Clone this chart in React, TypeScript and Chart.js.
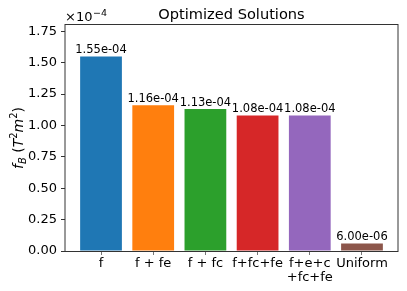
import React, { useEffect, useRef } from "react";
import { Chart, registerables } from "chart.js";
Chart.register(...registerables);

const categories = ["f", "f + fe", "f + fc", "f+fc+fe", "f+e+c\n+fc+fe", "Uniform"];
const values = [1.55e-4, 1.16e-4, 1.13e-4, 1.08e-4, 1.08e-4, 6.0e-6];
const colors = ["#1f77b4", "#ff7f0e", "#2ca02c", "#d62728", "#9467bd", "#8c564b"];
const yTickLabels = [0, 0.25, 0.5, 0.75, 1.0, 1.25, 1.5, 1.75];
const yUnit = 1e-4;
const yMaxScaled = 1.8;
const titleText = "Optimized Solutions";

const FONT = "'DejaVu Sans', sans-serif";
const SPINE = "#333";
const TICKC = "#777";

function fmtExp(v: number): string {
  const [m, e] = v.toExponential(2).split("e");
  const n = parseInt(e, 10);
  return m + "e" + (n < 0 ? "-" : "+") + String(Math.abs(n)).padStart(2, "0");
}

const decorPlugin = {
  id: "decor",
  afterDraw(chart: any) {
    const ctx = chart.ctx as CanvasRenderingContext2D;
    const a = chart.chartArea;
    ctx.save();
    // frame (horizontal spines crisp, vertical spines antialiased like the reference)
    ctx.strokeStyle = SPINE;
    ctx.lineWidth = 1;
    ctx.beginPath();
    ctx.moveTo(a.left, a.top - 0.5);
    ctx.lineTo(a.right, a.top - 0.5);
    ctx.moveTo(a.left, a.bottom + 0.5);
    ctx.lineTo(a.right, a.bottom + 0.5);
    ctx.moveTo(a.left, a.top - 1);
    ctx.lineTo(a.left, a.bottom + 1);
    ctx.moveTo(a.right, a.top - 1);
    ctx.lineTo(a.right, a.bottom + 1);
    ctx.stroke();

    // bar value labels
    const meta = chart.getDatasetMeta(0);
    ctx.fillStyle = "#000";
    ctx.font = `11.5px ${FONT}`;
    ctx.textAlign = "center";
    ctx.textBaseline = "alphabetic";
    meta.data.forEach((bar: any, i: number) => {
      ctx.fillText(fmtExp(values[i]), bar.x, bar.y - 3);
    });

    // title
    ctx.font = `14.6px ${FONT}`;
    ctx.fillText(titleText, (a.left + a.right) / 2, 19);

    // offset text x10^-4
    ctx.textAlign = "left";
    ctx.font = `13px ${FONT}`;
    const base = "×10";
    ctx.fillText(base, a.left, 21);
    const w = ctx.measureText(base).width;
    ctx.font = `9.5px ${FONT}`;
    ctx.fillText("−4", a.left + w + 0.5, 15.5);

    // y-axis label
    ctx.translate(18, (a.top + a.bottom) / 2);
    ctx.rotate(-Math.PI / 2);
    const parts = [
      { t: "f", f: `italic 14px ${FONT}`, dy: 0 },
      { t: "B", f: `italic 10px ${FONT}`, dy: 3 },
      { t: " (", f: `14px ${FONT}`, dy: 0 },
      { t: "T", f: `italic 14px ${FONT}`, dy: 0 },
      { t: "2", f: `10px ${FONT}`, dy: -6 },
      { t: "m", f: `italic 14px ${FONT}`, dy: 0 },
      { t: "2", f: `10px ${FONT}`, dy: -6 },
      { t: ")", f: `14px ${FONT}`, dy: 0 },
    ];
    let total = 0;
    const widths = parts.map((p) => {
      ctx.font = p.f;
      const ww = ctx.measureText(p.t).width;
      total += ww;
      return ww;
    });
    let x = -total / 2;
    parts.forEach((p, i) => {
      ctx.font = p.f;
      ctx.fillText(p.t, x, 5 + p.dy);
      x += widths[i];
    });
    ctx.restore();
  },
};

export default function App() {
  const ref = useRef<HTMLCanvasElement | null>(null);
  useEffect(() => {
    if (!ref.current) return;
    const chart = new Chart(ref.current, {
      type: "bar",
      data: {
        datasets: [
          {
            data: values.map((v, i) => ({ x: i, y: v })),
            backgroundColor: colors,
            borderWidth: 0,
            barPercentage: 0.8,
            categoryPercentage: 1,
          },
        ],
      },
      options: {
        animation: false,
        responsive: true,
        maintainAspectRatio: false,
        layout: { padding: { top: 25, right: 9, left: 0, bottom: 0 } },
        plugins: { legend: { display: false }, tooltip: { enabled: false }, title: { display: false } },
        scales: {
          x: {
            type: "linear",
            min: -0.69,
            max: 5.69,
            offset: false,
            afterBuildTicks: (axis: any) => {
              axis.ticks = categories.map((_, i) => ({ value: i }));
            },
            afterFit: (scale: any) => {
              scale.height = 40;
            },
            grid: { offset: false, drawOnChartArea: false, drawTicks: true, tickLength: 4, color: TICKC },
            border: { display: false },
            ticks: {
              color: "#000",
              font: { family: FONT, size: 13, lineHeight: 1.1 },
              padding: 1,
              maxRotation: 0,
              autoSkip: false,
              callback: (_v: any, i: number) => categories[i].split("\n"),
            },
          },
          y: {
            min: 0,
            max: yMaxScaled * yUnit,
            afterBuildTicks: (axis: any) => {
              axis.ticks = yTickLabels.map((t) => ({ value: t * yUnit }));
            },
            afterFit: (scale: any) => {
              scale.width = 65;
            },
            grid: { offset: false, drawOnChartArea: false, drawTicks: true, tickLength: 4, color: SPINE },
            border: { display: false },
            ticks: {
              color: "#000",
              font: { family: FONT, size: 13 },
              padding: 4,
              callback: (_v: any, i: number) => yTickLabels[i].toFixed(2),
            },
          },
        },
      },
      plugins: [decorPlugin],
    } as any);
    return () => chart.destroy();
  }, []);
  return (
    <div style={{ position: "fixed", left: 0, top: 0, width: 407, height: 291, background: "#fff" }}>
      <canvas ref={ref} />
    </div>
  );
}
